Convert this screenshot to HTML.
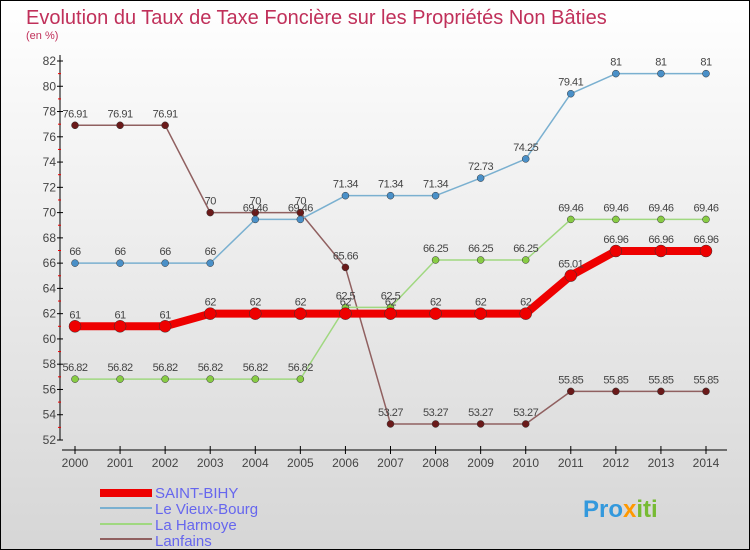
<!DOCTYPE html>
<html><head><meta charset="utf-8"><style>
body{margin:0}
svg{display:block;font-family:"Liberation Sans",sans-serif}
</style></head><body>
<svg id="c" width="750" height="550">
<defs><linearGradient id="bg" x1="0" y1="0" x2="0" y2="1"><stop offset="0" stop-color="#ffffff"/><stop offset="1" stop-color="#d6d6d6"/></linearGradient></defs>
<rect x="0.5" y="0.5" width="749" height="549" fill="url(#bg)" stroke="#000"/>
<text x="26" y="24" font-size="20" fill="#c0305a">Evolution du Taux de Taxe Foncière sur les Propriétés Non Bâties</text>
<text x="26" y="39" font-size="11" fill="#c0305a">(en %)</text>
<g id="axes"></g><g id="series"></g>
<g>
<rect x="100" y="489" width="52" height="8" fill="#e00"/>
<text x="155" y="498" font-size="15" fill="#6666ee">SAINT-BIHY</text>
<rect x="100" y="507" width="52" height="2" fill="#7ab0d0"/>
<text x="155" y="514" font-size="15" fill="#6666ee">Le Vieux-Bourg</text>
<rect x="100" y="523" width="52" height="2" fill="#a0d880"/>
<text x="155" y="530" font-size="15" fill="#6666ee">La Harmoye</text>
<rect x="100" y="538" width="52" height="2" fill="#906060"/>
<text x="155" y="546" font-size="15" fill="#6666ee">Lanfains</text>
</g>
<text x="583" y="517" font-size="24" font-weight="bold" fill="#3399dd">Pro<tspan fill="#ff9900">x</tspan><tspan fill="#77bb33">iti</tspan></text>
</svg>
<script>
const years=[2000,2001,2002,2003,2004,2005,2006,2007,2008,2009,2010,2011,2012,2013,2014];
const yTicks=[52,54,56,58,60,62,64,66,68,70,72,74,76,78,80,82];
const saintBihy=[61,61,61,62,62,62,62,62,62,62,62,65.01,66.96,66.96,66.96];
const vieuxBourg=[66,66,66,66,69.46,69.46,71.34,71.34,71.34,72.73,74.25,79.41,81,81,81];
const laHarmoye=[56.82,56.82,56.82,56.82,56.82,56.82,62.5,62.5,66.25,66.25,66.25,69.46,69.46,69.46,69.46];
const lanfains=[76.91,76.91,76.91,70,70,70,65.66,53.27,53.27,53.27,53.27,55.85,55.85,55.85,55.85];
const NS="http://www.w3.org/2000/svg";
const x=i=>75+i*(706-75)/14;
const y=v=>440-(v-52)*(440-61)/30;
function mk(t,a,p){const e=document.createElementNS(NS,t);for(const k in a)e.setAttribute(k,a[k]);p.appendChild(e);return e;}
const ax=document.getElementById('axes');
mk('line',{x1:60,y1:55,x2:60,y2:440,stroke:'#000'},ax);
mk('line',{x1:62,y1:450,x2:727,y2:450,stroke:'#000'},ax);
yTicks.forEach(v=>{
  mk('line',{x1:57,y1:y(v),x2:63,y2:y(v),stroke:'#000'},ax);
  if(v<82)mk('line',{x1:58,y1:y(v+1),x2:61,y2:y(v+1),stroke:'#e00'},ax);
  const t=mk('text',{x:56,y:y(v)+4,'font-size':12,fill:'#444','text-anchor':'end'},ax);t.textContent=v;
  
});
years.forEach((yr,i)=>{
  mk('line',{x1:x(i),y1:446,x2:x(i),y2:454,stroke:'#000'},ax);
  const t=mk('text',{x:x(i),y:467,'font-size':12,fill:'#444','text-anchor':'middle'},ax);t.textContent=yr;
  
});
const sg=document.getElementById('series');
function draw(data,name,lc,pc,w,r){
  const g=mk('g',{},sg);
  
  
  mk('polyline',{points:data.map((v,i)=>x(i)+','+y(v)).join(' '),fill:'none',stroke:lc,'stroke-width':w,'stroke-linejoin':'round'},g);
  data.forEach((v,i)=>{
    const c=mk('circle',{cx:x(i),cy:y(v),r:r,fill:pc,stroke:'#333','stroke-width':0.5},g);
    
    
    const t=mk('text',{x:x(i),y:y(v)-8,'font-size':11,fill:'#444','text-anchor':'middle','letter-spacing':'-0.5'},g);
    t.textContent=String(v);
  });
}
draw(lanfains,'lanfains','#906060','#6a1a1a',1.5,3.5);
draw(laHarmoye,'la-harmoye','#a0d880','#88cc44',1.5,3.5);
draw(vieuxBourg,'vieux-bourg','#7ab0d0','#4a90c8',1.5,3.5);
draw(saintBihy,'saint-bihy','#ee0000','#ee0000',8,6);
</script>
</body></html>
